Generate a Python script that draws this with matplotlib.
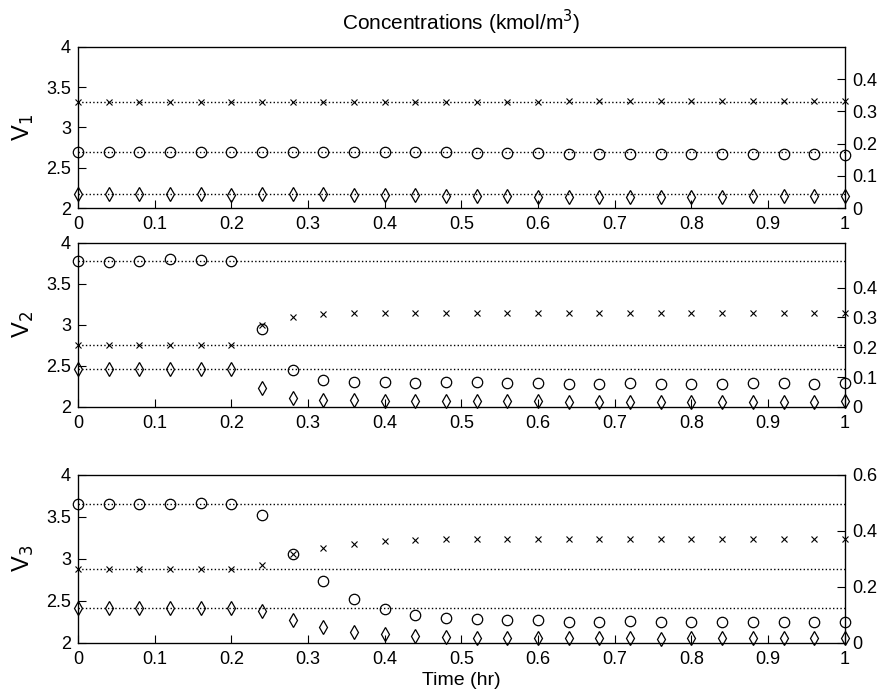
import matplotlib
matplotlib.use("Agg")
import matplotlib.pyplot as plt
from matplotlib.ticker import FuncFormatter

plt.rcParams['font.family'] = ['Liberation Sans', 'DejaVu Sans']

time = [0.00, 0.04, 0.08, 0.12, 0.16, 0.20, 0.24, 0.28, 0.32, 0.36, 0.40, 0.44, 0.48,
        0.52, 0.56, 0.60, 0.64, 0.68, 0.72, 0.76, 0.80, 0.84, 0.88, 0.92, 0.96, 1.00]

# values read in left-axis units (2..4)
v1_x = [3.32, 3.32, 3.32, 3.32, 3.32, 3.32, 3.32, 3.32, 3.32, 3.32, 3.32, 3.32, 3.32,
        3.32, 3.32, 3.32, 3.33, 3.33, 3.33, 3.33, 3.33, 3.33, 3.33, 3.33, 3.33, 3.33]
v1_o = [2.69, 2.69, 2.69, 2.69, 2.69, 2.69, 2.69, 2.70, 2.70, 2.70, 2.70, 2.69, 2.69,
        2.68, 2.68, 2.68, 2.67, 2.67, 2.67, 2.67, 2.67, 2.67, 2.67, 2.67, 2.67, 2.66]
v1_d = [2.17, 2.17, 2.17, 2.17, 2.17, 2.16, 2.17, 2.17, 2.17, 2.16, 2.16, 2.16, 2.15,
        2.15, 2.15, 2.14, 2.14, 2.14, 2.14, 2.14, 2.14, 2.14, 2.15, 2.15, 2.15, 2.15]
v1_ref = [3.32, 2.69, 2.17]

v2_x = [2.75, 2.75, 2.75, 2.75, 2.75, 2.75, 3.00, 3.10, 3.13, 3.14, 3.14, 3.14, 3.14,
        3.14, 3.14, 3.14, 3.14, 3.14, 3.14, 3.14, 3.14, 3.14, 3.14, 3.14, 3.14, 3.14]
v2_o = [3.78, 3.77, 3.78, 3.80, 3.79, 3.78, 2.95, 2.45, 2.33, 2.30, 2.30, 2.29, 2.30,
        2.30, 2.29, 2.29, 2.28, 2.28, 2.29, 2.28, 2.28, 2.28, 2.29, 2.29, 2.28, 2.29]
v2_d = [2.46, 2.46, 2.46, 2.46, 2.46, 2.46, 2.23, 2.11, 2.09, 2.08, 2.07, 2.07, 2.07,
        2.07, 2.07, 2.07, 2.06, 2.06, 2.06, 2.06, 2.06, 2.06, 2.06, 2.06, 2.06, 2.07]
v2_ref = [3.78, 2.75, 2.46]

v3_x = [2.88, 2.88, 2.88, 2.88, 2.88, 2.88, 2.93, 3.06, 3.13, 3.18, 3.21, 3.22, 3.23,
        3.23, 3.24, 3.24, 3.24, 3.24, 3.24, 3.24, 3.24, 3.24, 3.24, 3.24, 3.24, 3.24]
v3_o = [3.65, 3.65, 3.65, 3.65, 3.66, 3.65, 3.52, 3.06, 2.73, 2.52, 2.40, 2.33, 2.30,
        2.28, 2.27, 2.27, 2.25, 2.25, 2.26, 2.25, 2.25, 2.25, 2.25, 2.25, 2.25, 2.25]
v3_d = [2.41, 2.42, 2.42, 2.42, 2.42, 2.42, 2.38, 2.27, 2.19, 2.13, 2.10, 2.08, 2.07,
        2.06, 2.06, 2.06, 2.06, 2.06, 2.06, 2.05, 2.06, 2.06, 2.06, 2.06, 2.06, 2.06]
v3_ref = [3.65, 2.88, 2.41]

ylabels = ['V$_1$', 'V$_2$', 'V$_3$']
right_max = [0.5, 0.55, 0.6]
right_ticks = [[0, 0.1, 0.2, 0.3, 0.4], [0, 0.1, 0.2, 0.3, 0.4], [0, 0.2, 0.4, 0.6]]
xticks = [0, 0.1, 0.2, 0.3, 0.4, 0.5, 0.6, 0.7, 0.8, 0.9, 1.0]
left_ticks = [2, 2.5, 3, 3.5, 4]

panels = [(v1_x, v1_o, v1_d, v1_ref), (v2_x, v2_o, v2_d, v2_ref), (v3_x, v3_o, v3_d, v3_ref)]
rects = [[0.0885, 0.702, 0.8705, 0.231],
         [0.0885, 0.417, 0.8705, 0.235],
         [0.0885, 0.079, 0.8705, 0.241]]

fig = plt.figure(figsize=(8.81, 6.98), dpi=100)
fig.patch.set_facecolor('white')
fmt = FuncFormatter(lambda v, p: '%g' % v)

for i, (px, po, pd, pref) in enumerate(panels):
    ax = fig.add_axes(rects[i])
    for r in pref:
        ax.axhline(r, color='black', linestyle=':', linewidth=1.0)
    ax.plot(time, px, linestyle='none', marker='x', color='black', ms=5, mew=0.8, clip_on=False)
    ax.plot(time, po, linestyle='none', marker='o', mfc='none', mec='black', ms=7.5, mew=0.9, clip_on=False)
    ax.plot(time, pd, linestyle='none', marker='d', mfc='none', mec='black', ms=7.5, mew=0.9, clip_on=False)
    ax.set_xlim(0, 1)
    ax.set_ylim(2, 4)
    ax.set_xticks(xticks)
    ax.set_yticks(left_ticks)
    ax.xaxis.set_major_formatter(fmt)
    ax.yaxis.set_major_formatter(fmt)
    ax.tick_params(direction='in', labelsize=13, length=6, width=0.8, pad=5)
    ax.tick_params(axis='x', pad=6)
    ax.set_ylabel(ylabels[i], fontsize=17, labelpad=7)
    for s in ax.spines.values():
        s.set_linewidth(0.9)
    ax2 = ax.twinx()
    ax2.set_ylim(0, right_max[i])
    ax2.set_yticks(right_ticks[i])
    ax2.yaxis.set_major_formatter(fmt)
    ax2.tick_params(direction='in', labelsize=13, length=6, width=0.8, pad=5)
    if i == 0:
        ax.set_title('Concentrations (kmol/m$^3$)', fontsize=15, pad=12)
    if i == 2:
        ax.set_xlabel('Time (hr)', fontsize=14, labelpad=3)

fig.savefig('out.png', dpi=100, facecolor='white')
